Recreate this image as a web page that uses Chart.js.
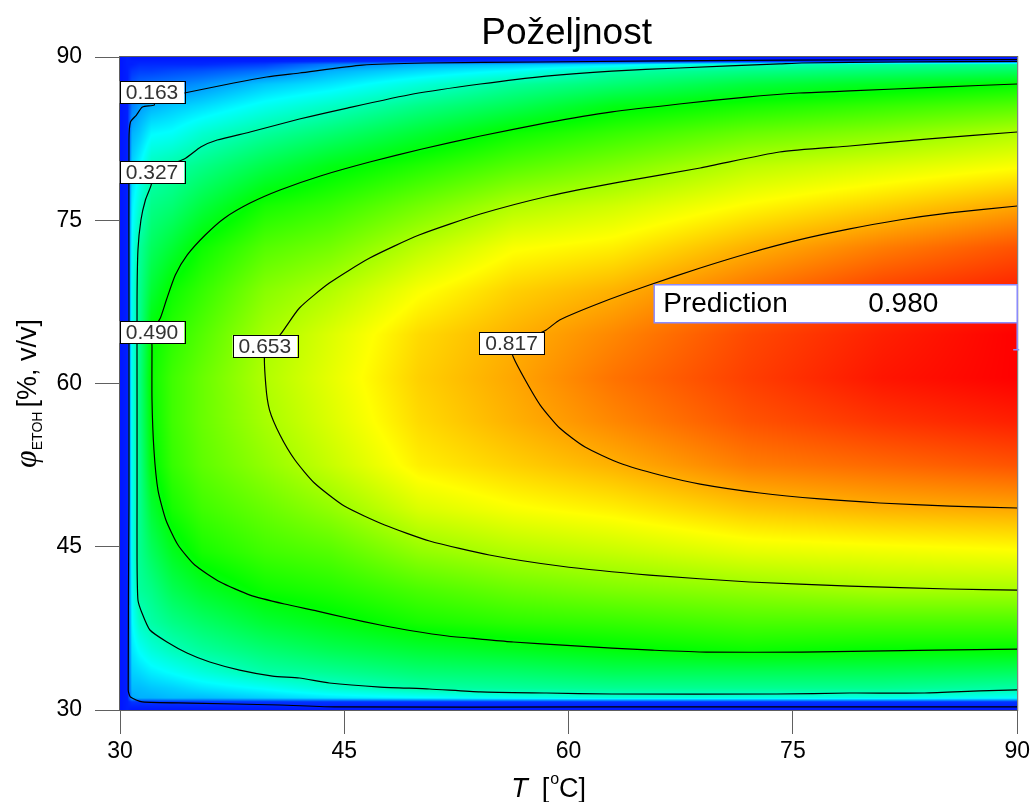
<!DOCTYPE html>
<html>
<head>
<meta charset="utf-8">
<title>Poželjnost</title>
<script src="https://cdn.jsdelivr.net/npm/chart.js@4.4.0/dist/chart.umd.min.js"></script>
<style>
  html, body { margin: 0; padding: 0; background: #fff; }
  #wrap { width: 1034px; height: 802px; }
</style>
</head>
<body>
<div id="wrap"><canvas id="chart" width="1034" height="802"></canvas></div>
<script>
// Axis ticks
const xTicks = [30, 45, 60, 75, 90];
const yTicks = [30, 45, 60, 75, 90];

// Desirability surface (rows = phi, columns = T)
const gridT = [30, 30.5, 30.8, 31.3, 32.1, 33.5, 35.5, 39.7, 44, 50, 56.3, 63, 72, 81, 90];
const gridPhi = [30, 30.75, 31.1, 32, 33.5, 35.5, 38, 41, 44.5, 48.5, 52.5, 56.5, 60.5, 64.5, 68.5, 72.5, 76.3, 80, 83, 85.5, 87.5, 88.7, 89.3, 89.6, 90];
const desirability = [
  [0.02,0.03,0.02,0.02,0.02,0.02,0.02,0.02,0.02,0.02,0.02,0.02,0.02,0.02,0.02],
  [0.02,0.03,0.05,0.05,0.05,0.05,0.05,0.05,0.05,0.05,0.05,0.05,0.05,0.05,0.05],
  [0.02,0.03,0.16,0.17,0.17,0.18,0.18,0.20,0.22,0.24,0.26,0.28,0.27,0.27,0.25],
  [0.02,0.03,0.18,0.18,0.19,0.20,0.22,0.25,0.29,0.33,0.34,0.35,0.35,0.35,0.33],
  [0.02,0.03,0.20,0.21,0.23,0.25,0.28,0.33,0.35,0.38,0.39,0.41,0.41,0.41,0.40],
  [0.02,0.03,0.22,0.25,0.28,0.31,0.34,0.38,0.41,0.44,0.46,0.48,0.50,0.49,0.49],
  [0.02,0.03,0.24,0.30,0.33,0.36,0.39,0.44,0.47,0.51,0.53,0.54,0.56,0.56,0.56],
  [0.02,0.03,0.25,0.34,0.36,0.41,0.45,0.50,0.52,0.56,0.59,0.61,0.63,0.65,0.65],
  [0.02,0.03,0.26,0.35,0.40,0.46,0.51,0.55,0.57,0.63,0.66,0.68,0.71,0.72,0.73],
  [0.02,0.03,0.26,0.35,0.44,0.51,0.55,0.59,0.63,0.70,0.73,0.75,0.79,0.81,0.82],
  [0.02,0.03,0.26,0.35,0.48,0.54,0.58,0.63,0.68,0.75,0.78,0.81,0.86,0.88,0.90],
  [0.02,0.03,0.26,0.36,0.49,0.55,0.59,0.65,0.70,0.77,0.81,0.85,0.90,0.93,0.95],
  [0.02,0.03,0.26,0.36,0.50,0.55,0.59,0.66,0.71,0.78,0.82,0.87,0.92,0.96,0.98],
  [0.02,0.03,0.26,0.35,0.49,0.53,0.57,0.65,0.70,0.77,0.81,0.85,0.91,0.95,0.98],
  [0.02,0.03,0.26,0.35,0.44,0.50,0.54,0.62,0.66,0.73,0.78,0.81,0.87,0.92,0.95],
  [0.02,0.03,0.25,0.34,0.40,0.44,0.50,0.57,0.60,0.67,0.73,0.75,0.81,0.86,0.90],
  [0.02,0.03,0.23,0.29,0.36,0.38,0.43,0.51,0.54,0.60,0.66,0.69,0.74,0.78,0.82],
  [0.02,0.03,0.20,0.24,0.31,0.33,0.36,0.42,0.47,0.52,0.57,0.61,0.67,0.70,0.73],
  [0.02,0.03,0.17,0.19,0.24,0.25,0.29,0.34,0.38,0.44,0.50,0.54,0.59,0.62,0.66],
  [0.02,0.03,0.12,0.15,0.17,0.19,0.21,0.26,0.30,0.36,0.41,0.47,0.51,0.54,0.57],
  [0.02,0.03,0.08,0.10,0.11,0.12,0.14,0.19,0.22,0.28,0.34,0.38,0.43,0.46,0.49],
  [0.02,0.03,0.05,0.06,0.06,0.07,0.08,0.11,0.17,0.21,0.25,0.33,0.36,0.38,0.40],
  [0.02,0.03,0.03,0.04,0.04,0.04,0.04,0.06,0.12,0.17,0.19,0.22,0.31,0.34,0.35],
  [0.02,0.03,0.03,0.03,0.03,0.03,0.03,0.03,0.04,0.04,0.04,0.04,0.04,0.04,0.04],
  [0.02,0.03,0.02,0.02,0.02,0.02,0.02,0.02,0.02,0.02,0.02,0.02,0.02,0.02,0.02]
];

// Contour lines [T, phi]
const contour163 = [[90,89.77],[74.6,89.72],[58.1,89.54],[50.5,89.45],[46.2,89.26],[42.0,88.53],[39.8,88.16],[37.6,87.61],[34.3,86.69],[32.3,86.1],[32.3,85.6],[31.5,85.4],[31.1,84.67],[30.7,84.03],[30.6,82.4],[30.6,67.7],[30.6,49.3],[30.55,31.84],[30.7,31.19],[31.5,30.74],[34.7,30.64],[40.7,30.46],[44.5,30.28],[62.1,30.28],[90,30.28]];
const contour327 = [[90,89.59],[82.1,89.54],[75.6,89.45],[74.1,89.36],[67.4,88.99],[62.9,88.71],[58.5,88.25],[54.1,87.52],[49.6,86.6],[45.2,85.31],[42.0,84.3],[38.7,83.11],[36.5,82.37],[35.4,81.73],[34.3,80.63],[32.1,79.43],[32.1,78.33],[31.7,76.86],[31.4,75.02],[31.2,72.27],[31.14,67.67],[31.14,58.48],[31.14,49.29],[31.14,43.78],[31.2,40.11],[31.47,38.91],[32.0,37.35],[33.14,36.25],[34.48,35.24],[36.0,34.41],[38.0,33.67],[40.2,33.12],[42.0,32.94],[44.0,32.48],[47.4,32.11],[50.7,31.93],[54.1,31.66],[58.5,31.56],[62.9,31.47],[73.9,31.47],[78.8,31.56],[83.8,31.56],[87.5,31.75],[90,31.84]];
const contour490 = [[90,87.52],[84.8,87.24],[78.8,86.88],[75.4,86.69],[71.9,86.32],[67.4,85.68],[62.9,84.95],[58.5,83.94],[54.1,82.74],[50.2,81.55],[46.7,80.35],[43.4,79.07],[40.7,77.78],[38.7,76.58],[37.0,75.21],[35.7,73.64],[34.5,71.81],[33.7,69.97],[33.1,67.67],[32.7,66.02],[32.14,64.73],[32.14,63.35],[32.14,58.48],[32.27,53.89],[32.54,50.21],[33.07,47.46],[33.88,45.16],[35.0,43.32],[36.7,41.76],[38.7,40.56],[41.0,39.74],[43.2,39.09],[45.2,38.45],[47.4,37.81],[49.6,37.26],[51.9,36.8],[54.1,36.52],[56.3,36.25],[59.6,35.97],[62.9,35.68],[65.6,35.5],[69.2,35.32],[75.6,35.32],[84.5,35.5],[90,35.6]];
const contour653 = [[90,83.11],[84.1,82.47],[78.8,81.82],[74.1,81.27],[68.8,79.8],[63.4,78.51],[58.7,77.23],[54.1,75.57],[50.0,73.64],[46.7,71.53],[44.0,69.23],[42.0,66.94],[40.7,64.46],[39.7,63.08],[39.75,59.86],[40.0,57.56],[40.7,55.27],[41.7,52.97],[43.0,50.86],[45.0,48.74],[47.7,47.0],[50.7,45.53],[54.7,44.24],[59.4,43.23],[65.4,42.4],[72.1,41.76],[78.8,41.39],[85.5,41.12],[90,41.02]];
const contour817 = [[90,76.31],[85.5,75.67],[82.1,75.02],[78.8,74.2],[75.4,73.19],[72.1,71.99],[68.8,70.61],[65.4,69.05],[62.1,67.4],[59.4,65.84],[58.5,64.92],[56.2,63.3],[56.3,62.43],[57.1,60.32],[58.1,58.02],[59.4,55.91],[61.1,54.16],[63.4,52.69],[66.1,51.59],[68.8,50.76],[72.8,49.94],[76.8,49.39],[80.8,49.02],[85.5,48.74],[90,48.56]];

// Contour labels
const labelText = ['0.163', '0.327', '0.490', '0.653', '0.817'];
const labelT = [32.14, 32.14, 32.14, 39.69, 56.19];
const labelPhi = [86.78, 79.43, 64.73, 63.45, 63.72];

// Prediction flag
const predictionT = 90;
const predictionPhi = 63.1;
const predictionValue = '0.980';

// Colour ramp blue -> cyan -> green -> yellow -> red
const stopValues = [0, 0.245, 0.49, 0.735, 0.98];
const stopColors = [[0,0,255],[0,255,255],[0,255,0],[255,255,0],[255,0,0]];

function colorFor(v) {
    if (v <= stopValues[0]) return stopColors[0];
    for (let i = 0; i < stopValues.length - 1; i++) {
        if (v <= stopValues[i + 1]) {
            const f = (v - stopValues[i]) / (stopValues[i + 1] - stopValues[i]);
            const a = stopColors[i], b = stopColors[i + 1];
            return [a[0] + (b[0] - a[0]) * f, a[1] + (b[1] - a[1]) * f, a[2] + (b[2] - a[2]) * f];
        }
    }
    return stopColors[stopColors.length - 1];
}

function findCell(arr, v) {
    for (let i = 0; i < arr.length - 2; i++) if (v <= arr[i + 1]) return i;
    return arr.length - 2;
}

function cellLookup(arr, values) {
    const idx = [], frac = [];
    values.forEach(v => {
        const k = findCell(arr, v);
        let f = (v - arr[k]) / (arr[k + 1] - arr[k]);
        idx.push(k);
        frac.push(Math.min(1, Math.max(0, f)));
    });
    return { idx, frac };
}

// Heatmap under the contour lines
const heatmapPlugin = {
    id: 'heatmap',
    beforeDatasetsDraw(chart) {
        const { ctx, chartArea: a, scales: { x, y } } = chart;
        const w = Math.round(a.right - a.left), h = Math.round(a.bottom - a.top);
        const off = document.createElement('canvas');
        off.width = w; off.height = h;
        const octx = off.getContext('2d');
        const img = octx.createImageData(w, h);

        const tv = [], pv = [];
        for (let i = 0; i < w; i++) tv.push(x.getValueForPixel(a.left + i + 0.5));
        for (let j = 0; j < h; j++) pv.push(y.getValueForPixel(a.top + j + 0.5));
        const cols = cellLookup(gridT, tv), rows = cellLookup(gridPhi, pv);

        for (let j = 0; j < h; j++) {
            const r = rows.idx[j], fr = rows.frac[j];
            const r0 = desirability[r], r1 = desirability[r + 1];
            for (let i = 0; i < w; i++) {
                const c = cols.idx[i], fc = cols.frac[i];
                const v = (r0[c] * (1 - fc) + r0[c + 1] * fc) * (1 - fr) + (r1[c] * (1 - fc) + r1[c + 1] * fc) * fr;
                const col = colorFor(v);
                const k = (j * w + i) * 4;
                img.data[k] = col[0]; img.data[k + 1] = col[1]; img.data[k + 2] = col[2]; img.data[k + 3] = 255;
            }
        }
        octx.putImageData(img, 0, 0);
        ctx.drawImage(off, a.left, a.top);
    }
};

// Frame, contour labels, prediction flag, titles
const overlayPlugin = {
    id: 'overlay',
    afterDatasetsDraw(chart) {
        const { ctx, chartArea: a, scales: { x, y } } = chart;
        ctx.save();
        ctx.strokeStyle = '#606060';
        ctx.lineWidth = 1;
        ctx.strokeRect(a.left - 0.5, a.top - 0.5, a.right - a.left + 1, a.bottom - a.top + 1);

        ctx.font = '21px "Liberation Sans", Arial, sans-serif';
        ctx.textAlign = 'center';
        ctx.textBaseline = 'middle';
        labelText.forEach((txt, i) => {
            const px = x.getPixelForValue(labelT[i]);
            const py = y.getPixelForValue(labelPhi[i]);
            const bw = ctx.measureText(txt).width + 12, bh = 22;
            ctx.fillStyle = '#fff';
            ctx.fillRect(px - bw / 2, py - bh / 2, bw, bh);
            ctx.strokeStyle = '#000';
            ctx.strokeRect(Math.round(px - bw / 2) + 0.5, Math.round(py - bh / 2) + 0.5, Math.round(bw), bh);
            ctx.fillStyle = '#333';
            ctx.fillText(txt, px, py + 1);
        });

        // prediction box
        const fx = x.getPixelForValue(predictionT);
        const fy = y.getPixelForValue(predictionPhi);
        const boxL = fx - 363, boxT = fy - 65, boxH = 38;
        ctx.fillStyle = '#fff';
        ctx.fillRect(boxL, boxT, fx - boxL, boxH);
        ctx.strokeStyle = '#8c8cff';
        ctx.lineWidth = 1.5;
        ctx.strokeRect(boxL, boxT, fx - boxL, boxH);
        ctx.beginPath();
        ctx.moveTo(fx, boxT + boxH);
        ctx.lineTo(fx, fy);
        ctx.moveTo(fx - 4, fy);
        ctx.lineTo(fx + 2, fy);
        ctx.stroke();
        ctx.fillStyle = '#000';
        ctx.font = '28px "Liberation Sans", Arial, sans-serif';
        ctx.textAlign = 'left';
        ctx.fillText('Prediction', boxL + 9, boxT + boxH / 2 + 1);
        ctx.fillText(predictionValue, fx - 149, boxT + boxH / 2 + 1);
        ctx.restore();
    },
    afterDraw(chart) {
        const { ctx, chartArea: a } = chart;
        ctx.save();
        ctx.fillStyle = '#000';
        ctx.textBaseline = 'alphabetic';

        // chart title
        ctx.font = '37px "Liberation Sans", Arial, sans-serif';
        ctx.textAlign = 'center';
        ctx.fillText('Poželjnost', (a.left + a.right) / 2 - 2, 44);

        // x title: T [°C]
        ctx.textAlign = 'left';
        const big = '27px "Liberation Sans", Arial, sans-serif';
        const small = '16px "Liberation Sans", Arial, sans-serif';
        const parts = [
            { t: 'T', f: 'italic ' + big, dy: 0, gap: 14 },
            { t: '[', f: big, dy: 0, gap: 1 },
            { t: 'o', f: small, dy: -13, gap: 0 },
            { t: 'C]', f: big, dy: 0, gap: 0 }
        ];
        let total = 0;
        parts.forEach(p => { ctx.font = p.f; p.w = ctx.measureText(p.t).width; total += p.w + p.gap; });
        let sx = (a.left + a.right) / 2 - 20 - total / 2;
        parts.forEach(p => { ctx.font = p.f; ctx.fillText(p.t, sx, 797 + p.dy); sx += p.w + p.gap; });

        // y title: phi_ETOH [%, v/v]
        const yparts = [
            { t: 'φ', f: 'italic 32px "Liberation Serif", serif', dy: 0, gap: 0 },
            { t: 'ETOH', f: '14px "Liberation Sans", Arial, sans-serif', dy: 6, gap: 4 },
            { t: '[%, v/v]', f: '27px "Liberation Sans", Arial, sans-serif', dy: 0, gap: 0 }
        ];
        total = 0;
        yparts.forEach(p => { ctx.font = p.f; p.w = ctx.measureText(p.t).width; total += p.w + p.gap; });
        ctx.translate(36, (a.top + a.bottom) / 2 + 10);
        ctx.rotate(-Math.PI / 2);
        sx = -total / 2;
        yparts.forEach(p => { ctx.font = p.f; ctx.fillText(p.t, sx, p.dy); sx += p.w + p.gap; });
        ctx.restore();
    }
};

function contourSet(points) {
    return {
        data: points.map(p => ({ x: p[0], y: p[1] })),
        showLine: true,
        borderColor: '#000',
        borderWidth: 1.2,
        pointRadius: 0,
        tension: 0.2,
        fill: false
    };
}

const tickFont = { family: '"Liberation Sans", Arial, sans-serif', size: 23 };

new Chart(document.getElementById('chart').getContext('2d'), {
    type: 'scatter',
    data: {
        datasets: [contour163, contour327, contour490, contour653, contour817].map(contourSet)
    },
    options: {
        responsive: false,
        devicePixelRatio: 1,
        animation: false,
        layout: { padding: { top: 57, right: 16, left: 0, bottom: 0 } },
        plugins: { legend: { display: false }, tooltip: { enabled: false }, title: { display: false } },
        scales: {
            x: {
                type: 'linear', min: 30, max: 90,
                afterBuildTicks: s => { s.ticks = xTicks.map(v => ({ value: v })); },
                afterFit: s => { s.height = 92; },
                ticks: { font: tickFont, color: '#000', padding: 4, autoSkip: false, maxRotation: 0 },
                grid: { drawOnChartArea: false, drawTicks: true, tickLength: 24, color: '#606060' },
                border: { display: true, color: '#606060' }
            },
            y: {
                type: 'linear', min: 30, max: 90,
                afterBuildTicks: s => { s.ticks = yTicks.map(v => ({ value: v })); },
                afterFit: s => { s.width = 120; },
                ticks: { font: tickFont, color: '#000', padding: 13, autoSkip: false },
                grid: { drawOnChartArea: false, drawTicks: true, tickLength: 25, color: '#606060' },
                border: { display: true, color: '#606060' }
            }
        }
    },
    plugins: [heatmapPlugin, overlayPlugin]
});
</script>
</body>
</html>
